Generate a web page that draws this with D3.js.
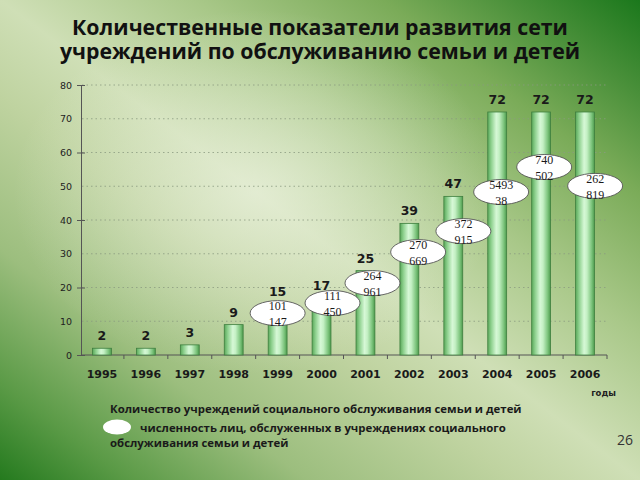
<!DOCTYPE html>
<html><head><meta charset="utf-8">
<script src="https://cdn.jsdelivr.net/npm/d3@7"></script>
<style>html,body{margin:0;padding:0;overflow:hidden;}svg{display:block;}</style>
</head><body>
<svg id="c" width="640" height="480"></svg>
<script>
// ---- data ----
const years = ['1995','1996','1997','1998','1999','2000','2001','2002','2003','2004','2005','2006'];
const institutions = [2, 2, 3, 9, 15, 17, 25, 39, 47, 72, 72, 72];
const servedLine1 = [null, null, null, null, '101', '111', '264', '270', '372', '5493', '740', '262'];
const servedLine2 = [null, null, null, null, '147', '450', '961', '669', '915', '38', '502', '819'];
const yTicks = [0, 10, 20, 30, 40, 50, 60, 70, 80];
// callout placement (value-axis level and shift in band steps)
const calloutLevel = [null, null, null, null, 12.4, 15.4, 21.3, 30.5, 36.7, 48.3, 55.7, 50.1];
const calloutShift = [0, 0, 0, 0, 0, 0.25, 0.16, 0.2, 0.23, 0.09, 0.07, 0.23];

const titleLines = ['Количественные показатели развития сети', 'учреждений по обслуживанию семьи и детей'];
const xUnit = 'годы';
const legend1 = 'Количество учреждений социального обслуживания семьи и детей';
const legend2a = 'численность лиц, обслуженных в учреждениях социального';
const legend2b = 'обслуживания семьи и детей';
const pageNo = '26';

const svg = d3.select('#c');
const defs = svg.append('defs');

// background gradient
const bg = defs.append('linearGradient').attr('id','bg')
  .attr('x1',0).attr('y1',1).attr('x2',1).attr('y2',0);
[[0,'#247a1e'],[0.1,'#5a9a46'],[0.24,'#9cbe7e'],[0.4,'#bfd3a0'],[0.5,'#cfdfb6'],[0.65,'#a9c889'],[0.8,'#7aab58'],[0.9,'#4a903a'],[1,'#1b781c']]
  .forEach(([o,c]) => bg.append('stop').attr('offset',o).attr('stop-color',c));
const hl = defs.append('radialGradient').attr('id','hl')
  .attr('cx',0.4).attr('cy',0.4).attr('r',0.38);
hl.append('stop').attr('offset',0).attr('stop-color','#eff4e4').attr('stop-opacity',0.6);
hl.append('stop').attr('offset',1).attr('stop-color','#eff4e4').attr('stop-opacity',0);

svg.append('rect').attr('width',640).attr('height',480).attr('fill','url(#bg)');
svg.append('rect').attr('width',640).attr('height',480).attr('fill','url(#hl)');

// bar gradient
const bgBar = defs.append('linearGradient').attr('id','bar').attr('x1',0).attr('x2',1).attr('y1',0).attr('y2',0);
[[0,'#5aa85a'],[0.18,'#8dd08d'],[0.45,'#d6f8d6'],[0.6,'#c4f0c4'],[0.85,'#7cc47c'],[1,'#4d9a4d']]
  .forEach(([o,c]) => bgBar.append('stop').attr('offset',o).attr('stop-color',c));

// scales
const x = d3.scaleBand().domain(years).range([80, 607]).paddingInner(0.57).paddingOuter(0.285);
const y = d3.scaleLinear().domain([0, 80]).range([355, 85]);

// gridlines
svg.append('g').selectAll('line').data(yTicks.filter(d => d > 0)).join('line')
  .attr('x1', 82).attr('x2', 607).attr('y1', d => y(d)).attr('y2', d => y(d))
  .attr('stroke', '#8a9a80').attr('stroke-width', 0.8).attr('stroke-dasharray', '1.5,3');

// y axis
const yAxis = svg.append('g').attr('transform','translate(81,0)')
  .call(d3.axisLeft(y).tickValues(yTicks).tickSize(4).tickPadding(5));
yAxis.select('.domain').attr('stroke','#555');
yAxis.selectAll('.tick line').attr('stroke','#555').attr('x2', 4).attr('x1', d => d % 20 === 0 ? -4 : 0)
  .attr('opacity', d => d % 20 === 0 ? 1 : 0);
yAxis.selectAll('text').attr('font-family','DejaVu Sans, Verdana, sans-serif').attr('font-size',9.5).attr('fill','#222');

// x axis
const xAxis = svg.append('g').attr('transform','translate(0,355)')
  .call(d3.axisBottom(x).tickSize(0).tickPadding(15));
xAxis.select('.domain').attr('d', 'M81,0H607').attr('stroke','#555');
xAxis.selectAll('text').attr('font-family','DejaVu Sans, Verdana, sans-serif').attr('font-weight','bold')
  .attr('font-size',11).attr('fill','#1a1a1a');
// separator ticks between categories
const step = x.step();
svg.append('g').selectAll('line').data(years.slice(1).concat(['end'])).join('line')
  .attr('x1', (d,i) => i < years.length - 1 ? x(d) - x.paddingInner()*step/2 : 607)
  .attr('x2', (d,i) => i < years.length - 1 ? x(d) - x.paddingInner()*step/2 : 607)
  .attr('y1', 355).attr('y2', 359).attr('stroke','#555');

// bars
svg.append('g').selectAll('rect').data(institutions).join('rect')
  .attr('x', (d,i) => x(years[i])).attr('width', x.bandwidth())
  .attr('y', d => y(d)).attr('height', d => y(0) - y(d))
  .attr('fill','url(#bar)').attr('stroke','#3f7f3f').attr('stroke-width',0.8);

// bar values
svg.append('g').selectAll('text').data(institutions).join('text')
  .attr('x', (d,i) => x(years[i]) + x.bandwidth()/2).attr('y', d => y(d) - 8)
  .attr('text-anchor','middle').attr('font-family','DejaVu Sans, Verdana, sans-serif')
  .attr('font-weight','bold').attr('font-size',12.5).attr('fill','#1a1a1a')
  .text(d => d);

// callouts
const idx = d3.range(years.length).filter(i => servedLine1[i] !== null);
const cg = svg.append('g').selectAll('g').data(idx).join('g')
  .attr('transform', i => `translate(${x(years[i]) + x.bandwidth()/2 + calloutShift[i]*step},${y(calloutLevel[i])})`);
cg.append('ellipse').attr('rx', 27.5).attr('ry', 12.5)
  .attr('fill','#ffffff').attr('stroke','#555').attr('stroke-width',0.9);
cg.append('text').attr('y', -3).attr('text-anchor','middle')
  .attr('font-family','Liberation Serif, Times New Roman, serif').attr('font-size',12).attr('fill','#1a1a1a')
  .text(i => servedLine1[i]);
cg.append('text').attr('y', 13).attr('text-anchor','middle')
  .attr('font-family','Liberation Serif, Times New Roman, serif').attr('font-size',12).attr('fill','#1a1a1a')
  .text(i => servedLine2[i]);

// title
svg.append('g').selectAll('text').data(titleLines).join('text')
  .attr('x', 320).attr('y', (d,i) => 35 + i*24).attr('text-anchor','middle')
  .attr('font-family','Open Sans, sans-serif').attr('font-weight','bold').attr('font-size',21.3)
  .attr('fill','#111').text(d => d);

// unit
svg.append('text').attr('x', 616).attr('y', 396).attr('text-anchor','end')
  .attr('font-family','DejaVu Sans, sans-serif').attr('font-weight','bold').attr('font-size',8.5)
  .attr('fill','#222').text(xUnit);

// legend
const lf = 'Open Sans, sans-serif';
svg.append('text').attr('x',110).attr('y',413).attr('font-family',lf).attr('font-weight','bold')
  .attr('font-size',11.4).attr('fill','#1a1a1a').text(legend1);
svg.append('ellipse').attr('cx',117).attr('cy',427).attr('rx',14).attr('ry',7.5).attr('fill','#fff');
svg.append('text').attr('x',140).attr('y',432).attr('font-family',lf).attr('font-weight','bold')
  .attr('font-size',11.4).attr('fill','#1a1a1a').text(legend2a);
svg.append('text').attr('x',110).attr('y',447).attr('font-family',lf).attr('font-weight','bold')
  .attr('font-size',11.4).attr('fill','#1a1a1a').text(legend2b);

// page number
svg.append('text').attr('x',633).attr('y',445).attr('text-anchor','end')
  .attr('font-family','Open Sans, sans-serif').attr('font-size',14).attr('fill','#333').text(pageNo);
</script>
</body></html>
